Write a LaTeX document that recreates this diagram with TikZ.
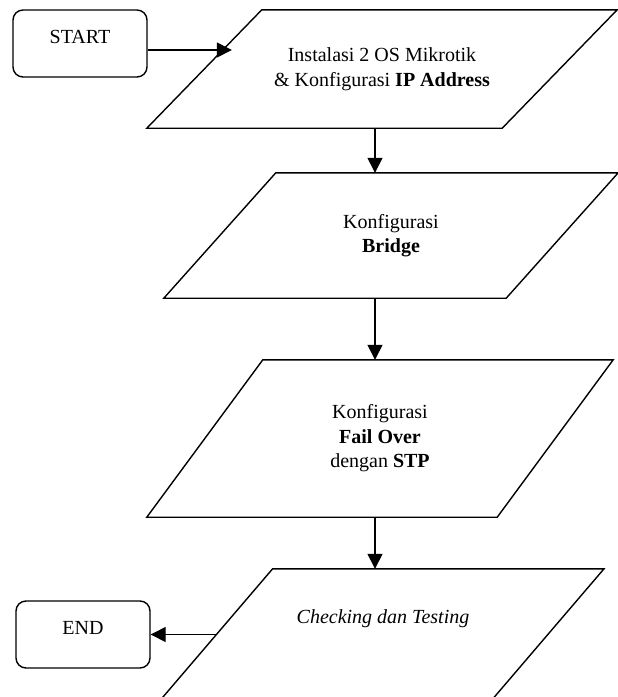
\documentclass[tikz,border=0pt]{standalone}
\usepackage{fontspec}
\setmainfont{Liberation Serif}
\usetikzlibrary{arrows.meta,calc}

\tikzset{
  every node/.style={font=\fontsize{20}{24.5}\selectfont},
  term/.style={draw, rectangle, rounded corners=10pt, line width=1.4pt,
    minimum width=134pt, minimum height=67pt, text depth=13pt},
  iobox/.style={rectangle, align=center, inner sep=0pt},
  boxline/.style={line width=1.4pt, line join=miter},
  arr/.style={line width=1.4pt, -{Triangle[length=15pt,width=15pt]}}
}

\begin{document}
\begin{tikzpicture}[x=1pt,y=1pt,yscale=-1,xscale=1]
\useasboundingbox (0,0) rectangle (618,697);

%Shape: Rounded Rect
\node[term] (start) at (80,43.5) {START};
%Shape: Rounded Rect
\node[term] (end) at (83,634.5) {END};

% Text Node
\node[iobox, minimum width=355pt, minimum height=118pt] (para1) at (382,69)
  {Instalasi 2 OS Mikrotik\\\& Konfigurasi \textbf{IP Address}};
% Text Node
\node[iobox, minimum width=342pt, minimum height=125pt] (para2) at (391,235.5)
  {Konfigurasi\\\textbf{Bridge}};
% Text Node
\node[iobox, minimum width=350pt, minimum height=157pt] (para3) at (380,438.5)
  {Konfigurasi\\\textbf{Fail Over}\\dengan \textbf{STP}};
% Text Node
\node[iobox, minimum width=331pt, minimum height=150pt] (para4) at (374,644) {};
\node (check) at (383,618.5) {\itshape Checking dan Testing};

%Shape: Parallelogram
\foreach \n/\s in {para1/115, para2/112, para3/116, para4/128.6}
  \draw[boxline] ($(\n.north west)+(\s/2,0)$) -- ($(\n.north east)+(\s/2,0)$)
    -- ($(\n.south east)-(\s/2,0)$) -- ($(\n.south west)-(\s/2,0)$) -- cycle;

\coordinate (axis) at (375,0);

%Straight Lines
\draw[arr, shorten >=-9pt] ([yshift=6.5pt]start.east) -- ($([yshift=6.5pt]start.east -| para1.west)+(18.5,0)$);
\draw[arr] (para1.south -| axis) -- (para2.north -| axis);
\draw[arr] (para2.south -| axis) -- (para3.north -| axis);
\draw[arr] (para3.south -| axis) -- (para4.north -| axis);
\draw[arr] ($(para4.west)+(8,-9.5)$) -- (end.east);
\end{tikzpicture}
\end{document}
